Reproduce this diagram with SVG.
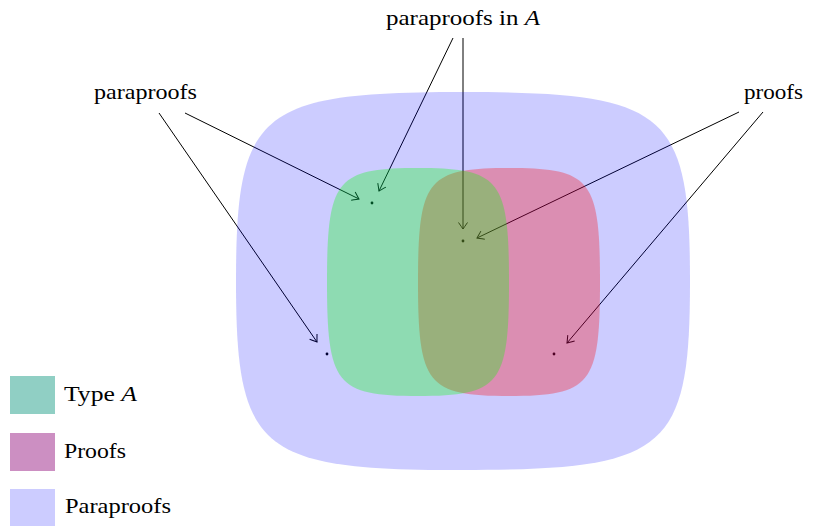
<svg xmlns="http://www.w3.org/2000/svg" width="813" height="526" viewBox="0 0 813 526">
<style>
text{font-family:"Liberation Serif","Times New Roman",serif;font-size:22px;fill:#000}
.it{font-style:italic}
.conn{stroke:#000;stroke-width:1;fill:none;marker-end:url(#ah)}
.dot{fill:#000}
</style>
<defs>
<marker id="ah" markerUnits="userSpaceOnUse" markerWidth="14" markerHeight="14" viewBox="-8 -7 10 14" refX="0" refY="0" orient="auto">
<path d="M-6.5,-4.5 Q-1.5,-1 0,0 Q-1.5,1 -6.5,4.5" fill="none" stroke="#000" stroke-width="1"/>
</marker>
</defs>
<g id="connectors">
<line class="conn" x1="185" y1="113" x2="359" y2="199"/>
<line class="conn" x1="159" y1="113" x2="317" y2="342"/>
<line class="conn" x1="453" y1="38" x2="379" y2="191"/>
<line class="conn" x1="463" y1="38" x2="463" y2="229"/>
<line class="conn" x1="739" y1="112" x2="477" y2="238"/>
<line class="conn" x1="763" y1="112" x2="567" y2="343"/>
</g>
<g id="points">
<circle class="dot" cx="372" cy="203" r="1.4"/>
<circle class="dot" cx="463" cy="241" r="1.4"/>
<circle class="dot" cx="327" cy="354" r="1.4"/>
<circle class="dot" cx="554" cy="354" r="1.4"/>
</g>
<g id="paraproofs-region">
<path d="M463,92 C667.3,92 690,110.9 690,281 C690,451.1 667.3,470 463,470 C258.7,470 236,451.1 236,281 C236,110.9 258.7,92 463,92 Z" fill="#0000ff" fill-opacity="0.2"/>
</g>
<g id="proofs-region">
<path d="M509,168 C590.9,168 600,179.4 600,282 C600,384.6 590.9,396 509,396 C427.1,396 418,384.6 418,282 C418,179.4 427.1,168 509,168 Z" fill="#ff0000" fill-opacity="0.3"/>
</g>
<g id="typeA-region">
<path d="M418,168 C499.9,168 509,179.4 509,282 C509,384.6 499.9,396 418,396 C336.1,396 327,384.6 327,282 C327,179.4 336.1,168 418,168 Z" fill="#00ff00" fill-opacity="0.3"/>
</g>
<g id="label-paraproofs"><text x="94" y="99" textLength="103" lengthAdjust="spacingAndGlyphs">paraproofs</text></g>
<g id="label-paraproofs-in-A"><text x="386" y="25" textLength="154" lengthAdjust="spacingAndGlyphs">paraproofs in <tspan class="it">A</tspan></text></g>
<g id="label-proofs"><text x="744" y="99" textLength="59" lengthAdjust="spacingAndGlyphs">proofs</text></g>
<g id="legend">
<g id="legend-typeA">
<rect x="10" y="376" width="45" height="38" fill="#90cfc4"/>
<text x="64" y="401" textLength="73" lengthAdjust="spacingAndGlyphs">Type <tspan class="it">A</tspan></text>
</g>
<g id="legend-proofs">
<rect x="10" y="433" width="45" height="38" fill="#cc8fc2"/>
<text x="64" y="458" textLength="62" lengthAdjust="spacingAndGlyphs">Proofs</text>
</g>
<g id="legend-paraproofs">
<rect x="10" y="489" width="45" height="37" fill="#ccccff"/>
<text x="65" y="513" textLength="106" lengthAdjust="spacingAndGlyphs">Paraproofs</text>
</g>
</g>
</svg>
